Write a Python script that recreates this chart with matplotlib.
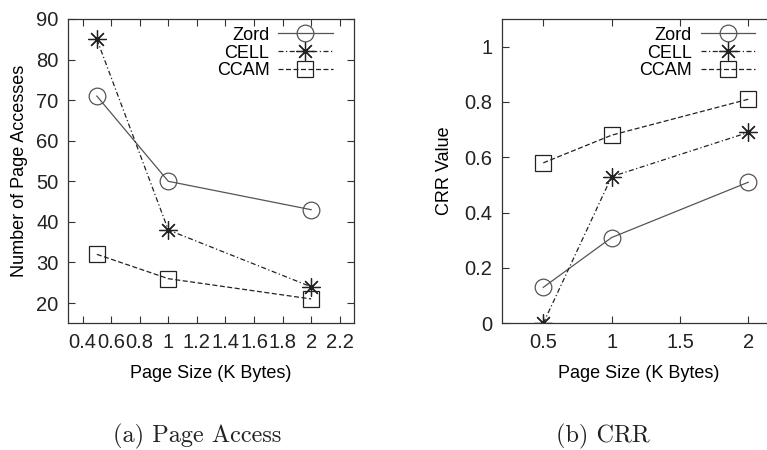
import matplotlib
matplotlib.use("Agg")
import matplotlib.pyplot as plt

page_size = [0.5, 1, 2]
series = ["Zord", "CELL", "CCAM"]
access_zord = [71, 50, 43]
access_cell = [85, 38, 24]
access_ccam = [32, 26, 21]
crr_zord = [0.13, 0.31, 0.51]
crr_cell = [0.0, 0.53, 0.69]
crr_ccam = [0.58, 0.68, 0.81]

left_xticks = [0.4, 0.6, 0.8, 1.0, 1.2, 1.4, 1.6, 1.8, 2.0, 2.2]
left_xlabels = ["0.4", "0.6", "0.8", "1", "1.2", "1.4", "1.6", "1.8", "2", "2.2"]
left_yticks = [20, 30, 40, 50, 60, 70, 80, 90]
right_xticks = [0.5, 1, 1.5, 2]
right_xlabels = ["0.5", "1", "1.5", "2"]
right_yticks = [0, 0.2, 0.4, 0.6, 0.8, 1]
right_ylabels = ["0", "0.2", "0.4", "0.6", "0.8", "1"]

plt.rcParams['font.family'] = ['Liberation Sans', 'DejaVu Sans']

W, H = 767, 450
fig = plt.figure(figsize=(W / 100, H / 100), dpi=100)

def ax_rect(x0, y0, x1, y1):
    return [x0 / W, 1 - y1 / H, (x1 - x0) / W, (y1 - y0) / H]

ax1 = fig.add_axes(ax_rect(68.3, 19, 354, 323.3))
ax2 = fig.add_axes(ax_rect(502.3, 19, 775.6, 323.3))

styles = [
    dict(color="#555555", linestyle="-", marker="o", ms=12),
    dict(color="#222222", linestyle=(0, (4, 2, 1, 2)), marker=(8, 2, 0), ms=13),
    dict(color="#222222", linestyle=(0, (4, 2)), marker="s", ms=11),
]

def draw(ax, data):
    for name, vals, st in zip(series, data, styles):
        ax.plot(page_size, vals, color=st["color"], linestyle=st["linestyle"],
                marker=st["marker"], markersize=st["ms"], markerfacecolor="none",
                markeredgecolor=st["color"], markeredgewidth=0.9, linewidth=0.9,
                label=name)
    for s in ax.spines.values():
        s.set_linewidth(0.9)
        s.set_color("#333333")
    ax.tick_params(direction="in", length=5, width=0.8, top=True, right=True,
                   labelsize=14.5, pad=7, colors="#333333", labelcolor="#222222")
    leg = ax.legend(loc="upper right", bbox_to_anchor=(0.925, 0.975), frameon=False,
                    markerfirst=False, fontsize=13, handlelength=3.0,
                    handletextpad=0.5, labelspacing=0.05, borderpad=0,
                    borderaxespad=0)
    for t in leg.get_texts():
        t.set_ha("right")
    leg._legend_box.align = "right"

draw(ax1, [access_zord, access_cell, access_ccam])
ax1.set_xlim(0.3, 2.3)
ax1.set_ylim(15, 90)
ax1.set_xticks(left_xticks)
ax1.set_xticklabels(left_xlabels)
ax1.set_yticks(left_yticks)
ax1.set_xlabel("Page Size (K Bytes)", fontsize=13, labelpad=9)
ax1.set_ylabel("Number of Page Accesses", fontsize=13, labelpad=6)

draw(ax2, [crr_zord, crr_cell, crr_ccam])
ax2.set_xlim(0.2, 2.2)
ax2.set_ylim(0, 1.1)
ax2.set_xticks(right_xticks)
ax2.set_xticklabels(right_xlabels)
ax2.set_yticks(right_yticks)
ax2.set_yticklabels(right_ylabels)
ax2.set_xlabel("Page Size (K Bytes)", fontsize=13, labelpad=9)
ax2.set_ylabel("CRR Value", fontsize=13, labelpad=8)

fig.text(197 / W, 1 - 436 / H, "(a) Page Access", family="cmr10", fontsize=17.5,
         ha="center", va="center", color="#222222")
fig.text(603 / W, 1 - 436 / H, "(b) CRR", family="cmr10", fontsize=17.5,
         ha="center", va="center", color="#222222")

fig.savefig("out.png", dpi=100)
